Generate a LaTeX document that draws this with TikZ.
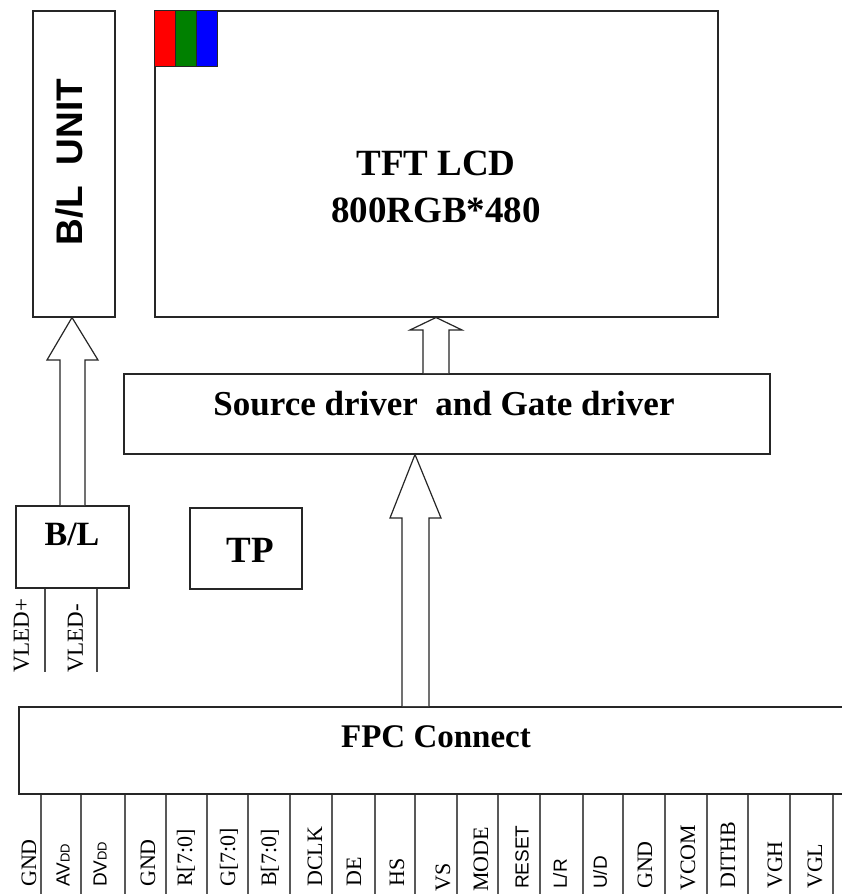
\documentclass[tikz,border=0pt]{standalone}
\usepackage{fontspec}
\setmainfont{Liberation Serif}
\setsansfont{Liberation Sans}
\begin{document}
\begin{tikzpicture}[x=1pt,y=-1pt,
  box/.style={draw=black!85, line width=1.5pt, inner sep=0pt, anchor=north west},
  barrow/.style={draw=black!85, line width=1.2pt, fill=white, line join=miter},
  pin/.style={draw=black!65, line width=1.5pt},
  vled/.style={draw=black!70, line width=1.5pt},
  title/.style={font=\bfseries\fontsize{37}{44}\selectfont, anchor=base, inner sep=0pt},
  pinlabel/.style={rotate=90, anchor=west, inner sep=0pt, font=\fontsize{22}{22}\selectfont},
  pinsans/.style={pinlabel, font=\sffamily\fontsize{19}{19}\selectfont},
  swatch/.style={draw=black!85, line width=0.8pt}]
\useasboundingbox (0,0) rectangle (842,894);
\clip (0,0) rectangle (842,894);
\fill[white] (0,0) rectangle (842,894);

% boxes
\node[box, minimum width=82, minimum height=306] (blu) at (32,10) {};
\node[box, minimum width=563, minimum height=306] (lcd) at (154,10) {};
\node[box, minimum width=646, minimum height=80] (src) at (123,373) {};
\node[box, minimum width=113, minimum height=82] (bl) at (15,505) {};
\node[box, minimum width=112, minimum height=81] (tp) at (189,507) {};
\node[box, minimum width=840, minimum height=87] (fpc) at (18,706) {};

% RGB swatches
\fill[red]   (154,10) rectangle (175,66);
\fill[green!50!black] (175,10) rectangle (196,66);
\fill[blue]  (196,10) rectangle (217,66);
\draw[swatch] (154,10) rectangle (217,66);
\draw[swatch] (175,10) -- (175,66);
\draw[swatch] (196,10) -- (196,66);

% texts
\node[rotate=90, anchor=base, inner sep=0pt, font=\sffamily\bfseries\fontsize{37}{37}\selectfont] (blutxt) at (82,162) {B/L\ \ UNIT};
\node[title] (lcdtxt1) at (436,175) {TFT LCD};
\node[title] (lcdtxt2) at (436,222) {800RGB*480};
\node[title, font=\bfseries\fontsize{35}{40}\selectfont] (srctxt) at (444,415) {Source driver\ \ and Gate driver};
\node[title, font=\bfseries\fontsize{34}{40}\selectfont] (bltxt) at (72,545) {B/L};
\node[title, font=\bfseries\fontsize{37}{40}\selectfont] (tptxt) at (250,562) {TP};
\node[title, font=\bfseries\fontsize{33}{40}\selectfont] (fpctxt) at (436,747) {FPC Connect};

% block arrows
\draw[barrow] (423,0 |- src.north) -- (423,330) -- (410,330) -- (436,0 |- lcd.south)
  -- (462,330) -- (449,330) -- (449,0 |- src.north);
\draw[barrow] (402,0 |- fpc.north) -- (402,518) -- (390,518) -- (415,0 |- src.south)
  -- (441,518) -- (429,518) -- (429,0 |- fpc.north);
\draw[barrow] (60,0 |- bl.north) -- (60,360) -- (47,360) -- (72,0 |- blu.south)
  -- (98,360) -- (85,360) -- (85,0 |- bl.north);

% VLED leads
\coordinate (vp) at (45,672);
\coordinate (vm) at (97,672);
\draw[vled] (45,0 |- bl.south) -- (vp);
\draw[vled] (97,0 |- bl.south) -- (vm);
\node[pinlabel, font=\fontsize{23}{23}\selectfont] (vptxt) at (21.5,673) {VLED+};
\node[pinlabel, font=\fontsize{23}{23}\selectfont] (vmtxt) at (75.5,673) {VLED-};

% FPC pins
\foreach \x in {41,81,125,166,207,248,290,332,375,415,457,498,540,583,623,665,707,748,790,833}
  \draw[pin] (\x,0 |- fpc.south) -- (\x,900);

\node[pinlabel] (p1) at (29,887) {GND};
\node[pinsans] (p2) at (63,887) {AV{\fontsize{13}{13}\selectfont DD}};
\node[pinsans] (p3) at (100,887) {DV{\fontsize{13}{13}\selectfont DD}};
\node[pinlabel] (p4) at (148,887) {GND};
\node[pinlabel] (p5) at (186,887) {R[7:0]};
\node[pinlabel] (p6) at (229,887) {G[7:0]};
\node[pinlabel] (p7) at (270,887) {B[7:0]};
\node[pinlabel] (p8) at (315,887) {DCLK};
\node[pinlabel] (p9) at (354,887) {DE};
\node[pinlabel] (p10) at (397,887) {HS};
\node[pinlabel] (p11) at (443,892) {VS};
\node[pinlabel] (p12) at (481,892) {MODE};
\node[pinsans] (p13) at (522,889) {RESET};
\node[pinsans] (p14) at (560,889) {L/R};
\node[pinsans] (p15) at (600,889) {U/D};
\node[pinlabel] (p16) at (645,889) {GND};
\node[pinlabel] (p17) at (688,891) {VCOM};
\node[pinlabel] (p18) at (728,889) {DITHB};
\node[pinlabel] (p19) at (775,889) {VGH};
\node[pinlabel] (p20) at (815,889) {VGL};
\end{tikzpicture}
\end{document}
